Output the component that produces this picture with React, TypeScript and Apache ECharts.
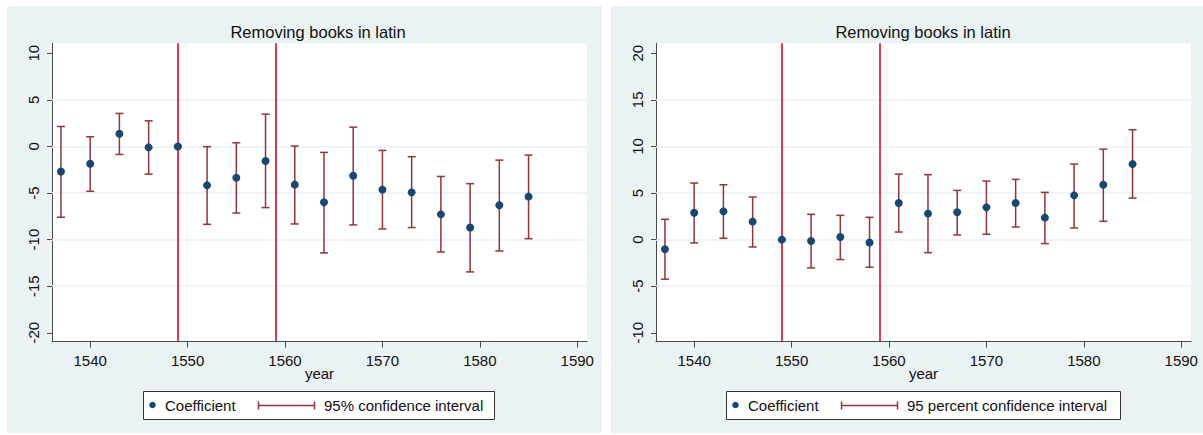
import React, { useEffect, useRef } from "react";
import * as echarts from "echarts";

// Event-study estimates by year: point coefficient with 95% interval bounds.
const years = [1537, 1540, 1543, 1546, 1549, 1552, 1555, 1558, 1561, 1564, 1567, 1570, 1573, 1576, 1579, 1582, 1585];

const leftCoef = [-2.7, -1.86, 1.36, -0.1, 0, -4.18, -3.36, -1.57, -4.1, -6.0, -3.14, -4.64, -4.93, -7.29, -8.71, -6.32, -5.39];
const leftLo = [-7.6, -4.82, -0.86, -2.97, 0, -8.36, -7.15, -6.57, -8.32, -11.43, -8.43, -8.86, -8.71, -11.33, -13.47, -11.22, -9.9];
const leftHi = [2.14, 1.04, 3.54, 2.75, 0, -0.03, 0.39, 3.46, 0.04, -0.64, 2.07, -0.43, -1.1, -3.22, -4.0, -1.47, -0.93];

const rightCoef = [-1.04, 2.89, 3.03, 1.93, 0, -0.15, 0.28, -0.32, 3.92, 2.79, 2.93, 3.46, 3.92, 2.36, 4.75, 5.89, 8.1];
const rightLo = [-4.25, -0.36, 0.14, -0.79, 0, -3.04, -2.14, -2.97, 0.81, -1.4, 0.5, 0.57, 1.35, -0.43, 1.25, 1.96, 4.46];
const rightHi = [2.18, 6.07, 5.89, 4.57, 0, 2.71, 2.6, 2.39, 7.03, 6.97, 5.28, 6.28, 6.46, 5.07, 8.1, 9.71, 11.79];

// Reference years marked with vertical lines
const eventYears = [1549, 1559];

// Axis ticks
const xTicks = [1540, 1550, 1560, 1570, 1580, 1590];
const leftYTicks = [-20, -15, -10, -5, 0, 5, 10];
const rightYTicks = [-10, -5, 0, 5, 10, 15, 20];

const titleText = "Removing books in latin";
const coefLabel = "Coefficient";
const leftCiLabel = "95% confidence interval";
const rightCiLabel = "95 percent confidence interval";

const FONT = '"Liberation Sans", Arial, Helvetica, sans-serif';
const NAVY = "#1a476f";
const MAROON = "#90353b";
const REFLINE = "#c8102e";
const PANEL_BG = "#eaf2f3";
const AXIS = "#4a4a4a";
const TEXT = "#111111";

const X_MIN = 1536.08;
const X_MAX = 1591.0;

function xAxisFor(gridIndex: number) {
  return {
    type: "value",
    gridIndex,
    min: X_MIN,
    max: X_MAX,
    axisLine: { show: true, onZero: false, lineStyle: { color: AXIS, width: 1 } },
    axisTick: { show: true, length: 6, customValues: xTicks, lineStyle: { color: AXIS, width: 1 } },
    axisLabel: {
      customValues: xTicks,
      formatter: (v: number) => String(v),
      fontSize: 15,
      color: TEXT,
      margin: 11,
      fontFamily: FONT,
    },
    splitLine: { show: false },
    name: "year",
    nameLocation: "middle",
    nameGap: 24,
    nameMoveOverlap: false,
    nameTextStyle: { fontSize: 15, color: TEXT, fontFamily: FONT },
  };
}

function yAxisFor(gridIndex: number, min: number, max: number, ticks: number[]) {
  return {
    type: "value",
    gridIndex,
    min,
    max,
    axisLine: { show: true, onZero: false, lineStyle: { color: AXIS, width: 1 } },
    axisTick: { show: true, length: 5, customValues: ticks, lineStyle: { color: AXIS, width: 1 } },
    axisLabel: {
      customValues: ticks,
      formatter: (v: number) => String(v),
      rotate: 90,
      fontSize: 15,
      color: TEXT,
      margin: 11,
      fontFamily: FONT,
    },
    splitLine: { show: false },
  };
}

function errorBarSeries(idx: number, lo: number[], hi: number[], gridValues: number[]) {
  return {
    type: "custom",
    xAxisIndex: idx,
    yAxisIndex: idx,
    z: 2,
    silent: true,
    data: years.map((y, i) => [y, lo[i], hi[i]]),
    encode: { x: 0, y: [1, 2] },
    renderItem: (_params: any, api: any) => {
      const x = api.value(0);
      const top = api.coord([x, api.value(2)]);
      const bot = api.coord([x, api.value(1)]);
      const half = 4;
      const style = { stroke: MAROON, lineWidth: 1.5, fill: "none" };
      return {
        type: "group",
        children: [
          { type: "line", shape: { x1: top[0], y1: top[1], x2: bot[0], y2: bot[1] }, style },
          { type: "line", shape: { x1: top[0] - half, y1: top[1], x2: top[0] + half, y2: top[1] }, style },
          { type: "line", shape: { x1: bot[0] - half, y1: bot[1], x2: bot[0] + half, y2: bot[1] }, style },
        ],
      };
    },
    markLine: {
      silent: true,
      z: 1,
      symbol: "none",
      label: { show: false },
      lineStyle: { color: PANEL_BG, width: 1.5, type: "solid" },
      data: gridValues.map((v) => ({ yAxis: v })),
    },
  };
}

function pointSeries(idx: number, coef: number[]) {
  return {
    type: "scatter",
    xAxisIndex: idx,
    yAxisIndex: idx,
    z: 3,
    silent: true,
    symbol: "circle",
    symbolSize: 8,
    itemStyle: { color: NAVY, opacity: 1 },
    data: years.map((y, i) => [y, coef[i]]),
    markLine: {
      silent: true,
      z: 1.5,
      symbol: "none",
      label: { show: false },
      lineStyle: { color: REFLINE, width: 1.6, type: "solid" },
      data: eventYears.map((v) => ({ xAxis: v })),
    },
  };
}

function legendBox(x0: number, width: number, ciLabel: string) {
  const cy = 405;
  const ciStyle = { stroke: MAROON, lineWidth: 1.5 };
  return [
    {
      type: "rect",
      z: 10,
      shape: { x: x0 + 0.5, y: 391.5, width, height: 28 },
      style: { fill: "#ffffff", stroke: "#333333", lineWidth: 1 },
    },
    { type: "circle", z: 11, shape: { cx: x0 + 9.5, cy, r: 3.3 }, style: { fill: NAVY } },
    {
      type: "text",
      z: 11,
      x: x0 + 22,
      y: cy,
      style: { text: coefLabel, fill: TEXT, font: `15px ${FONT}`, verticalAlign: "middle", align: "left" },
    },
    { type: "line", z: 11, shape: { x1: x0 + 115, y1: cy + 0.5, x2: x0 + 172, y2: cy + 0.5 }, style: ciStyle },
    { type: "line", z: 11, shape: { x1: x0 + 115.5, y1: cy - 3.5, x2: x0 + 115.5, y2: cy + 4.5 }, style: ciStyle },
    { type: "line", z: 11, shape: { x1: x0 + 171.5, y1: cy - 3.5, x2: x0 + 171.5, y2: cy + 4.5 }, style: ciStyle },
    {
      type: "text",
      z: 11,
      x: x0 + 181,
      y: cy,
      style: { text: ciLabel, fill: TEXT, font: `15px ${FONT}`, verticalAlign: "middle", align: "left" },
    },
  ];
}

export default function App() {
  const ref = useRef<HTMLDivElement>(null);

  useEffect(() => {
    if (!ref.current) return;
    const chart = echarts.init(ref.current, undefined, { renderer: "svg" });

    const gridTop = 43.3;
    const gridHeight = 298.4;

    chart.setOption({
      animation: false,
      backgroundColor: "#ffffff",
      textStyle: { fontFamily: FONT },
      title: [
        {
          text: titleText,
          left: 318,
          top: 23,
          textAlign: "center",
          padding: 0,
          textStyle: { fontSize: 16.5, fontWeight: "normal", color: TEXT, fontFamily: FONT },
        },
        {
          text: titleText,
          left: 923,
          top: 23,
          textAlign: "center",
          padding: 0,
          textStyle: { fontSize: 16.5, fontWeight: "normal", color: TEXT, fontFamily: FONT },
        },
      ],
      grid: [
        { left: 52, top: gridTop, width: 535, height: gridHeight, show: true, backgroundColor: "#ffffff", borderWidth: 0 },
        { left: 656, top: gridTop, width: 535, height: gridHeight, show: true, backgroundColor: "#ffffff", borderWidth: 0 },
      ],
      xAxis: [xAxisFor(0), xAxisFor(1)],
      yAxis: [
        yAxisFor(0, -20.96, 11.07, leftYTicks),
        yAxisFor(1, -10.96, 21.07, rightYTicks),
      ],
      series: [
        errorBarSeries(0, leftLo, leftHi, leftYTicks.slice(1, -1)),
        pointSeries(0, leftCoef),
        errorBarSeries(1, rightLo, rightHi, rightYTicks.slice(1, -1)),
        pointSeries(1, rightCoef),
      ],
      graphic: [
        { type: "rect", z: -1, silent: true, shape: { x: 7, y: 6, width: 595, height: 427 }, style: { fill: PANEL_BG } },
        { type: "rect", z: -1, silent: true, shape: { x: 611, y: 6, width: 592, height: 427 }, style: { fill: PANEL_BG } },
        ...legendBox(143, 351, leftCiLabel),
        ...legendBox(726, 394, rightCiLabel),
      ],
    });

    return () => chart.dispose();
  }, []);

  return (
    <div
      ref={ref}
      style={{ position: "fixed", left: 0, top: 0, width: 1203, height: 435 }}
    />
  );
}
